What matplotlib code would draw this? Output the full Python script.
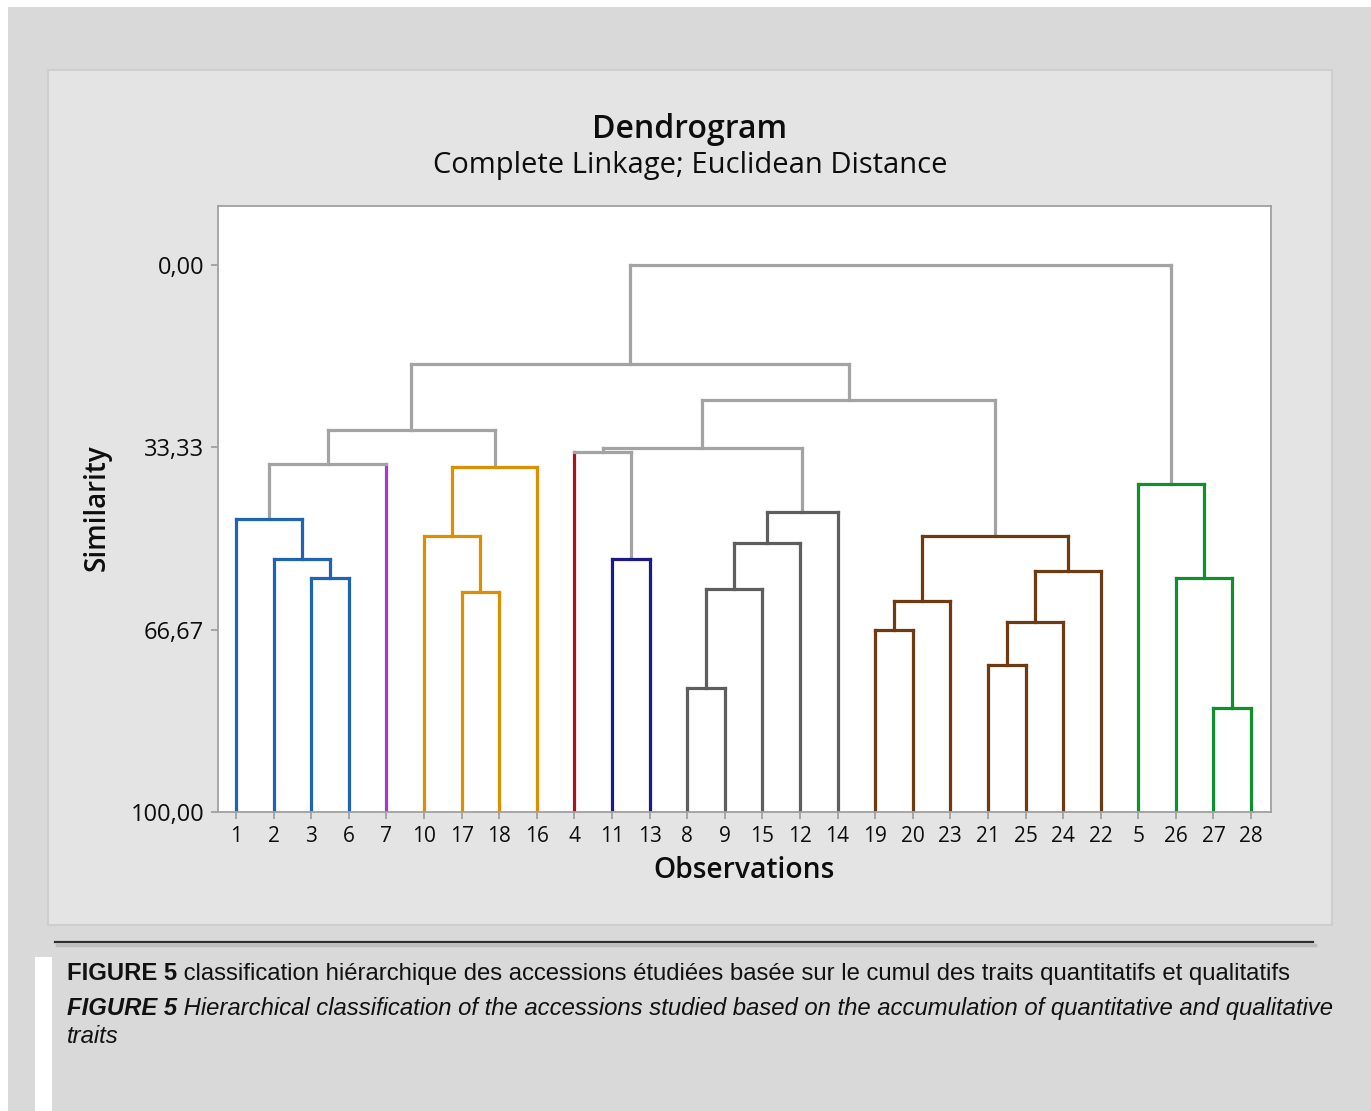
import matplotlib
matplotlib.use("Agg")
import matplotlib.pyplot as plt
from matplotlib.patches import Rectangle
from matplotlib.lines import Line2D

# observations in the order they appear along the x axis
leaf_order = [1, 2, 3, 6, 7, 10, 17, 18, 16, 4, 11, 13, 8, 9, 15, 12, 14,
              19, 20, 23, 21, 25, 24, 22, 5, 26, 27, 28]

# merges: (left child, right child, similarity); ints = observations, "Mk" = k-th merge
merges = [
    (3, 6, 57.3),        # M0
    (2, "M0", 53.7),     # M1
    (1, "M1", 46.5),     # M2
    ("M2", 7, 36.4),     # M3
    (17, 18, 59.7),      # M4
    (10, "M4", 49.6),    # M5
    ("M5", 16, 37.0),    # M6
    ("M3", "M6", 30.2),  # M7
    (11, 13, 53.7),      # M8
    (4, "M8", 34.2),     # M9
    (8, 9, 77.3),        # M10
    ("M10", 15, 59.3),   # M11
    ("M11", 12, 50.9),   # M12
    ("M12", 14, 45.1),   # M13
    ("M9", "M13", 33.4), # M14
    (19, 20, 66.7),      # M15
    ("M15", 23, 61.4),   # M16
    (21, 25, 73.1),      # M17
    ("M17", 24, 65.2),   # M18
    ("M18", 22, 56.0),   # M19
    ("M16", "M19", 49.5),# M20
    ("M14", "M20", 24.7),# M21
    ("M7", "M21", 18.1), # M22
    (27, 28, 81.0),      # M23
    (26, "M23", 57.3),   # M24
    (5, "M24", 40.1),    # M25
    ("M22", "M25", 0.0), # M26
]

# final clusters and their colours
clusters = [[1, 2, 3, 6], [7], [10, 17, 18, 16], [4], [11, 13],
            [8, 9, 15, 12, 14], [19, 20, 23, 21, 25, 24, 22], [5, 26, 27, 28]]
cluster_colors = ["#1f63b5", "#a23cc8", "#dc9000", "#a8141e", "#1c1a8a",
                  "#5e5e5e", "#6e3a12", "#0f8f2e"]
link_gray = "#a3a3a3"

ytick_vals = [0, 33.33, 66.67, 100]
ytick_labels = ["0,00", "33,33", "66,67", "100,00"]

leaf_color = {}
for c, col in zip(clusters, cluster_colors):
    for o in c:
        leaf_color[o] = col

W, H = 1371, 1111
fig = plt.figure(figsize=(W / 100, H / 100), dpi=100, facecolor="white")

def fx(px):
    return px / W

def fy(py):
    return 1 - py / H

# backgrounds
fig.add_artist(Rectangle((fx(8), 0), 1 - fx(8), fy(7), transform=fig.transFigure,
                         facecolor="#d9d9d9", edgecolor="none", zorder=0))
fig.add_artist(Rectangle((fx(48), fy(925)), fx(1332 - 48), (925 - 70) / H,
                         transform=fig.transFigure, facecolor="#e4e4e4",
                         edgecolor="#cecece", linewidth=1.5, zorder=0))
fig.add_artist(Rectangle((fx(35), 0), fx(17), (1111 - 957) / H, transform=fig.transFigure,
                         facecolor="white", edgecolor="none", zorder=0))
fig.add_artist(Line2D([fx(57), fx(1315)], [fy(945), fy(945)], transform=fig.transFigure,
                      color="#bdbdbd", linewidth=2.5, zorder=0))
fig.add_artist(Line2D([fx(55), fx(1313)], [fy(942), fy(942)], transform=fig.transFigure,
                      color="#2e2e2e", linewidth=1.6, zorder=1))

ax = fig.add_axes([fx(218), fy(812), fx(1271 - 218), (812 - 206) / H])
ax.set_facecolor("white")

pos = {o: i + 1 for i, o in enumerate(leaf_order)}
height = {o: 100.0 for o in leaf_order}
members = {o: {o} for o in leaf_order}
lw = 2.3

def cluster_of(mset):
    for c, col in zip(clusters, cluster_colors):
        if mset <= set(c):
            return col
    return None

for k, (a, b, s) in enumerate(merges):
    name = f"M{k}"
    pos[name] = (pos[a] + pos[b]) / 2
    height[name] = s
    members[name] = members[a] | members[b]
    inside = cluster_of(members[name])
    hcol = inside if inside else link_gray
    for ch in (a, b):
        if isinstance(ch, int):
            vcol = leaf_color[ch]
        else:
            vcol = inside if inside else link_gray
        ax.plot([pos[ch], pos[ch]], [height[ch], s], color=vcol, lw=lw,
                solid_capstyle="projecting", zorder=2)
    ax.plot([pos[a], pos[b]], [s, s], color=hcol, lw=lw,
            solid_capstyle="projecting", zorder=3 if inside else 2)

ax.set_xlim(0.52, len(leaf_order) + 0.53)
ax.set_ylim(100, -10.8)
ax.set_xticks(range(1, len(leaf_order) + 1))
ax.set_xticklabels([str(o) for o in leaf_order], fontsize=15, family="Open Sans")
ax.set_yticks(ytick_vals)
ax.set_yticklabels(ytick_labels, fontsize=17, family="Open Sans")
ax.tick_params(axis="both", direction="out", length=5, width=1.2, color="#9a9a9a",
               labelcolor="#0d0d0d")
ax.tick_params(axis="x", pad=5)
ax.tick_params(axis="y", pad=5)
for sp in ax.spines.values():
    sp.set_color("#a0a0a0")
    sp.set_linewidth(1.3)

# titles and labels
fig.text(fx(690), fy(129), "Dendrogram", ha="center", va="center", fontsize=23,
         family="Open Sans", weight="semibold", color="#0d0d0d")
fig.text(fx(690), fy(165), "Complete Linkage; Euclidean Distance", ha="center",
         va="center", fontsize=21, family="Open Sans", color="#0d0d0d")
fig.text(fx(97), fy(508), "Similarity", ha="center", va="center", rotation=90,
         fontsize=20, family="Open Sans", weight="semibold", color="#0d0d0d")
fig.text(fx(744), fy(870), "Observations", ha="center", va="center", fontsize=20.3,
         family="Open Sans", weight="semibold", color="#0d0d0d")

# caption
cap_font = ["Liberation Sans", "DejaVu Sans"]
t1 = fig.text(fx(67), fy(980), "FIGURE 5", fontsize=17.2, family=cap_font,
              weight="bold", va="baseline", color="#111111")
ax.annotate(" classification hiérarchique des accessions étudiées basée sur le cumul des traits quantitatifs et qualitatifs",
            xy=(1, 0), xycoords=t1, va="bottom", ha="left", fontsize=17.2,
            family=cap_font, color="#111111", annotation_clip=False)
t2 = fig.text(fx(67), fy(1015), "FIGURE 5", fontsize=17.2, family=cap_font,
              weight="bold", style="italic", va="baseline", color="#111111")
ax.annotate(" Hierarchical classification of the accessions studied based on the accumulation of quantitative and qualitative",
            xy=(1, 0), xycoords=t2, va="bottom", ha="left", fontsize=17.2,
            family=cap_font, style="italic", color="#111111", annotation_clip=False)
fig.text(fx(67), fy(1043), "traits", fontsize=17.2, family=cap_font, style="italic",
         va="baseline", color="#111111")

fig.savefig("out.png", dpi=100, facecolor=fig.get_facecolor())
